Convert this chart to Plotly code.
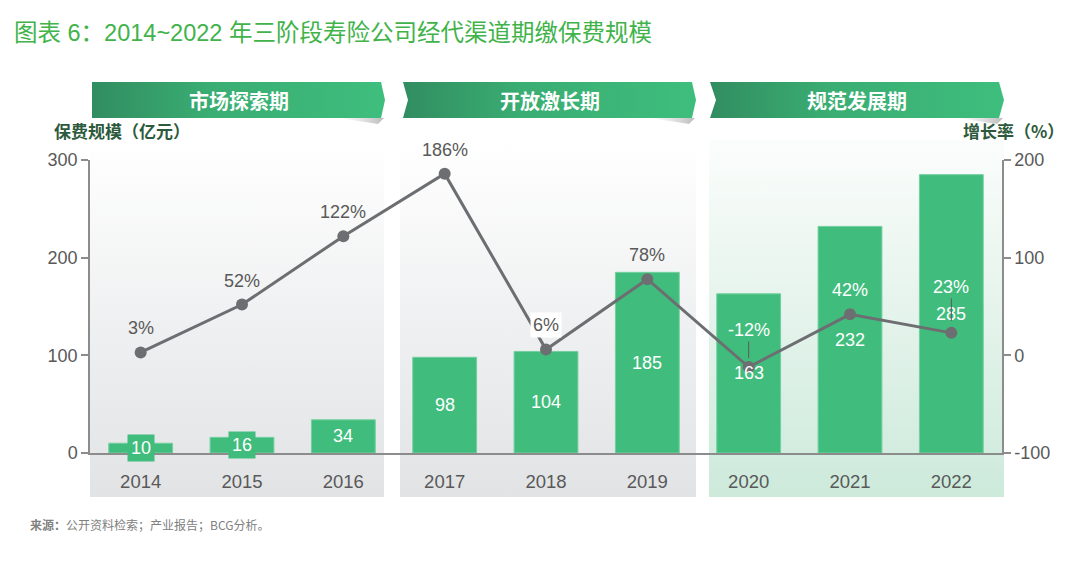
import plotly.graph_objects as go

# ---------------- data ----------------
years = ["2014", "2015", "2016", "2017", "2018", "2019", "2020", "2021", "2022"]
premium = [10, 16, 34, 98, 104, 185, 163, 232, 285]          # 保费规模（亿元）
growth = [3, 52, 122, 186, 6, 78, -12, 42, 23]               # 增长率（%）
phases = ["市场探索期", "开放激长期", "规范发展期"]
left_ticks = [0, 100, 200, 300]
right_ticks = [-100, 0, 100, 200]
right_ticktext = ["-100", "0", "100", "200"]

title_text = "图表 6：2014~2022 年三阶段寿险公司经代渠道期缴保费规模"
left_title = "保费规模（亿元）"
right_title = "增长率（%）"
source_text = "<b>来源：</b>公开资料检索；产业报告；BCG分析。"

# ---------------- style ----------------
W, H = 1080, 565
FONT = "Liberation Sans, Arial, Noto Sans CJK SC, sans-serif"
CJK = "Noto Sans CJK SC, Liberation Sans, sans-serif"
GREEN = "#40bd7d"
LINE = "#6d6e71"
TXT = "#595959"
AXIS = "#8c8c8c"


def py(v):
    """pixel row (from top) -> decoration-axis value"""
    return H - v


fig = go.Figure()

# ---------- decoration: phase panels (background) ----------
panels = [
    (90, 384, [[0, "#e2e3e5"], [0.45, "#eeeff0"], [1, "#ffffff"]]),
    (400, 696, [[0, "#e2e3e5"], [0.45, "#eeeff0"], [1, "#ffffff"]]),
    (709, 1004, [[0, "#cdeadb"], [0.5, "#e4f3eb"], [1, "#fbfdfc"]]),
]
for x0, x1, cs in panels:
    fig.add_trace(go.Scatter(
        x=[x0, x1, x1, x0, x0], y=[py(140), py(140), py(497), py(497), py(140)],
        xaxis="x", yaxis="y", mode="lines", line=dict(width=0),
        fill="toself",
        fillgradient=dict(type="vertical", colorscale=cs, start=py(497), stop=py(140)),
        hoverinfo="skip", showlegend=False))

# ---------- decoration: soft shadows under arrow tips ----------
for xr in (384, 695, 1003):
    fig.add_trace(go.Scatter(
        x=[xr - 45, xr, xr - 6, xr - 45], y=[py(118), py(118), py(124), py(118)],
        xaxis="x", yaxis="y", mode="lines", line=dict(width=0), fill="toself",
        fillgradient=dict(type="horizontal",
                          colorscale=[[0, "rgba(200,200,200,0)"], [1, "rgba(170,170,170,0.8)"]],
                          start=xr - 45, stop=xr),
        hoverinfo="skip", showlegend=False))

# ---------- decoration: phase header arrows ----------
arrows = [
    ([92, 381, 385, 381, 92, 92], [82, 82, 100, 118, 118, 82]),
    ([403, 692, 696, 692, 403, 408, 403], [82, 82, 100, 118, 118, 100, 82]),
    ([710, 999, 1004, 999, 710, 716, 710], [82, 82, 100, 118, 118, 100, 82]),
]
for xs, ys in arrows:
    fig.add_trace(go.Scatter(
        x=xs, y=[py(v) for v in ys], xaxis="x", yaxis="y", mode="lines",
        line=dict(width=0), fill="toself",
        fillgradient=dict(type="horizontal",
                          colorscale=[[0, "#318d60"], [0.4, "#3aad72"], [1, "#3ebe7d"]],
                          start=min(xs), stop=max(xs)),
        hoverinfo="skip", showlegend=False))

# ---------- bars ----------
fig.add_trace(go.Bar(
    x=years, y=premium, xaxis="x2", yaxis="y2", width=0.63,
    marker=dict(color=GREEN, line=dict(color="#74cfa0", width=1)),
    hoverinfo="skip", showlegend=False))

# ---------- growth line ----------
fig.add_trace(go.Scatter(
    x=years, y=growth, xaxis="x2", yaxis="y3", mode="lines+markers",
    line=dict(color=LINE, width=3), marker=dict(size=12, color=LINE),
    hoverinfo="skip", showlegend=False))

annotations = []

# bar value labels (centred in bars); category index used as x position
for i, v in enumerate(premium):
    small = v < 25
    ann = dict(x=i, y=v / 2, xref="x2", yref="y2", text=str(v), showarrow=False,
               font=dict(family=FONT, size=18, color="white"))
    if small:
        ann.update(bgcolor=GREEN, borderpad=3)
    annotations.append(ann)

# growth labels
for i, g in enumerate(growth):
    col = "white" if i >= 6 else TXT
    if years[i] in ("2020", "2022"):
        annotations.append(dict(
            x=i, y=g, xref="x2", yref="y3", text=f"{g}%", showarrow=True,
            arrowhead=0, arrowwidth=1, arrowcolor="#5a5a5a",
            ax=0, ay=-37 if years[i] == "2020" else -46,
            standoff=9 if years[i] == "2020" else 12,
            font=dict(family=FONT, size=18, color=col)))
    else:
        ann = dict(x=i, y=g, xref="x2", yref="y3", text=f"{g}%", showarrow=False,
                   yshift=24, font=dict(family=FONT, size=18, color=col))
        if years[i] == "2018":
            ann.update(bgcolor="white", borderpad=2)
        annotations.append(ann)

# header texts
for (xs, ys), name in zip(arrows, phases):
    annotations.append(dict(
        x=(min(xs) + max(xs)) / 2, y=py(100), xref="x", yref="y",
        text=f"<b>{name}</b>", showarrow=False,
        font=dict(family=CJK, size=20, color="white")))

# title, axis titles, source
annotations += [
    dict(x=12, y=py(33), xref="x", yref="y", xanchor="left", text=title_text,
         showarrow=False, font=dict(family=FONT, size=23.5, color="#41b34a")),
    dict(x=52, y=py(130), xref="x", yref="y", xanchor="left", text=f"<b>{left_title}</b>",
         showarrow=False, font=dict(family=CJK, size=17, color="#2d5a3c")),
    dict(x=1066, y=py(130), xref="x", yref="y", xanchor="right", text=f"<b>{right_title}</b>",
         showarrow=False, font=dict(family=CJK, size=17, color="#2d5a3c")),
    dict(x=28, y=py(524), xref="x", yref="y", xanchor="left", text=source_text,
         showarrow=False, font=dict(family=CJK, size=12, color="#808080")),
]

axis_common = dict(showgrid=False, zeroline=False, showline=True, linecolor=AXIS,
                   linewidth=1.5, ticks="outside", ticklen=7, tickcolor=AXIS,
                   tickwidth=1.5, tickfont=dict(family=FONT, size=18, color=TXT),
                   fixedrange=True, automargin=False)

fig.update_layout(
    width=W, height=H, margin=dict(l=0, r=0, t=0, b=0, pad=0, autoexpand=False),
    paper_bgcolor="white", plot_bgcolor="rgba(0,0,0,0)", showlegend=False,
    xaxis=dict(domain=[0, 1], range=[0, W], visible=False, fixedrange=True,
               automargin=False),
    yaxis=dict(domain=[0, 1], range=[0, H], visible=False, fixedrange=True,
               automargin=False),
    xaxis2=dict(domain=[90 / W, 1002 / W], anchor="y2", type="category",
                range=[-0.5, 8.5], showgrid=False, zeroline=False, showline=True,
                linecolor=AXIS, linewidth=1.5, ticks="outside", ticklen=11,
                tickcolor="rgba(0,0,0,0)", automargin=False,
                tickfont=dict(family=FONT, size=18.5, color=TXT), fixedrange=True),
    yaxis2=dict(domain=[(H - 453) / H, (H - 160) / H], anchor="x2", range=[0, 300],
                tickvals=left_ticks, **axis_common),
    yaxis3=dict(overlaying="y2", side="right", anchor="x2", range=[-100, 200],
                tickvals=right_ticks, ticktext=right_ticktext, **axis_common),
    annotations=annotations,
)

fig.write_html("out.html", post_script="document.body.style.margin='0';",
               config={"displayModeBar": False})
